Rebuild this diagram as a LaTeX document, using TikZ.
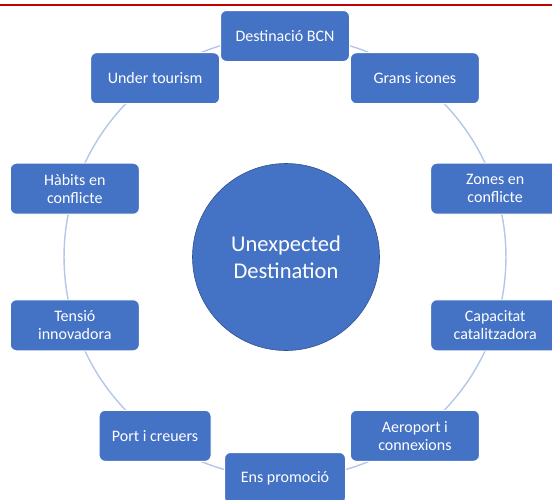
\documentclass[tikz,border=0pt]{standalone}
\usepackage{fontspec}
\setmainfont{Carlito}
\usetikzlibrary{backgrounds,calc}
\definecolor{boxblue}{HTML}{4472C4}
\definecolor{ringblue}{HTML}{B4C7E7}
\definecolor{edgeblue}{HTML}{2F528F}
\definecolor{redline}{HTML}{C00000}
\begin{document}
\begin{tikzpicture}[x=1pt,y=1pt,
  box/.style={rectangle, rounded corners=6pt, fill=boxblue, draw=white, line width=1pt,
    minimum width=129pt, minimum height=51pt, inner sep=2pt, text=white, align=center,
    font=\fontsize{16}{18}\selectfont},
  hub/.style={circle, fill=boxblue, draw=edgeblue, line width=0.6pt, minimum size=187pt,
    inner sep=0pt, text=white, align=center, font=\fontsize{22.5}{27}\selectfont},
  ring/.style={draw=ringblue, line width=1.4pt},
  rule/.style={draw=redline, line width=2pt}]
\useasboundingbox (0,0) rectangle (552,-499);
\coordinate (rl) at (0,-5);
\coordinate (rr) at (552,-5);
\draw[rule] (rl) -- (rr);
\coordinate (c) at (285,-257);
\node[hub] (hub) at (286,-257) {Unexpected\\Destination};
\node[box] (n0) at ([shift={(90:221pt)}]c) {Destinació BCN};
\node[box] (n1) at ([shift={(54:221pt)}]c) {Grans icones};
\node[box] (n2) at ([shift={(18:221pt)}]c) {Zones en\\conflicte};
\node[box] (n3) at ([shift={(-18:221pt)}]c) {Capacitat\\catalitzadora};
\node[box] (n4) at ([shift={(-54:221pt)}]c) {Aeroport i\\connexions};
\node[box, minimum width=121pt] (n5) at ([shift={(-90:221pt)}]c) {Ens promoció};
\node[box, minimum width=112pt] (n6) at ([shift={(-126:221pt)}]c) {Port i creuers};
\node[box] (n7) at ([shift={(-162:221pt)}]c) {Tensió\\innovadora};
\node[box] (n8) at ([shift={(162:221pt)}]c) {Hàbits en\\conflicte};
\node[box] (n9) at ([shift={(126:221pt)}]c) {Under tourism};
\begin{scope}[on background layer]
\foreach \a/\b in {n0/n1,n1/n2,n2/n3,n3/n4,n4/n5,n5/n6,n6/n7,n7/n8,n8/n9,n9/n0}
  \draw[ring] (\a.center) to[bend left=18, looseness=0.873] (\b.center);
\end{scope}
\end{tikzpicture}
\end{document}
